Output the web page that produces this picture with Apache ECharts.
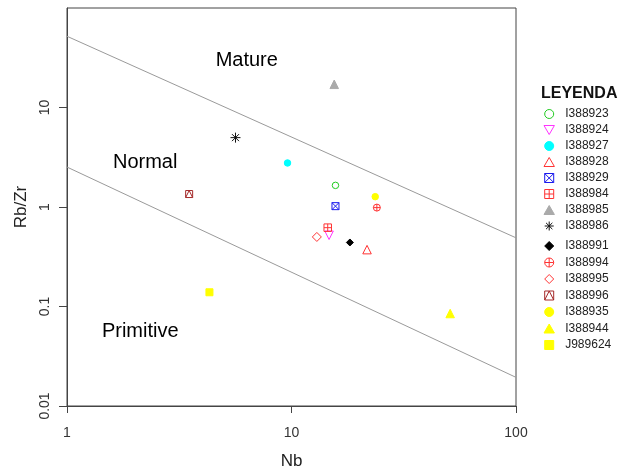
<!DOCTYPE html>
<html>
<head>
    <meta charset="utf-8"/>
    <title>Rb/Zr vs Nb</title>
    <script src="https://cdn.jsdelivr.net/npm/echarts@6/dist/echarts.min.js"></script>
    <style>
        html, body { margin: 0; padding: 0; background: #fff; }
        #chart { width: 619px; height: 472px; }
    </style>
</head>
<body>
<div id="chart"></div>
<script>
    // sample names and values
    var names = ['I388923', 'I388924', 'I388927', 'I388928', 'I388929', 'I388984', 'I388985', 'I388986',
        'I388991', 'I388994', 'I388995', 'I388996', 'I388935', 'I388944', 'J989624'];
    var nb = [15.7, 14.7, 9.6, 21.7, 15.7, 14.5, 15.5, 5.63, 18.2, 24.0, 12.97, 3.5, 23.6, 50.9, 4.31];
    var rbzr = [1.65, 0.52, 2.77, 0.373, 1.02, 0.62, 17.1, 4.98, 0.44, 0.986, 0.50, 1.35, 1.27, 0.085, 0.139];

    // field boundaries
    var upperNb = [1, 100];
    var upperRbZr = [52, 0.49];
    var lowerNb = [1, 100];
    var lowerRbZr = [2.52, 0.0194];

    // field names
    var fieldNames = ['Mature', 'Normal', 'Primitive'];
    var fieldNb = [6.32, 2.23, 2.12];
    var fieldRbZr = [29.5, 2.8, 0.0555];

    // tick labels
    var xTicks = [1, 10, 100];
    var yTicks = [0.01, 0.1, 1, 10];

    var FONT = '"Liberation Sans", Arial, sans-serif';
    var NONE = 'rgba(0,0,0,0)';

    // R-like symbols (paths keep their aspect in the legend)
    var P_CIRC = 'circle';
    var P_UP = 'path://M5 0 L10 8.66 L0 8.66 Z';
    var P_DOWN = 'path://M0 0 L10 0 L5 8.66 Z';
    var P_DIAM = 'path://M5 0 L10 5 L5 10 L0 5 Z';
    var P_SQ = 'path://M0 0 L10 0 L10 10 L0 10 Z';
    var P_SQX = 'path://M0 0 L10 0 L10 10 L0 10 Z M0 0 L10 10 M10 0 L0 10';
    var P_SQPLUS = 'path://M0 0 L10 0 L10 10 L0 10 Z M5 0 L5 10 M0 5 L10 5';
    var P_STAR = 'path://M5 0 L5 10 M0 5 L10 5 M1.5 1.5 L8.5 8.5 M8.5 1.5 L1.5 8.5';
    var P_CPLUS = 'path://M0 5 A5 5 0 1 1 10 5 A5 5 0 1 1 0 5 Z M5 0 L5 10 M0 5 L10 5';
    var P_SQTRI = 'path://M0 0 L10 0 L10 10 L0 10 Z M0 10 L5 0 L10 10';

    var styles = [
        {symbol: P_CIRC, size: 6.5, fill: NONE, stroke: '#22cc22'},
        {symbol: P_DOWN, size: 8.5, fill: NONE, stroke: '#ff33ff'},
        {symbol: P_CIRC, size: 6.5, fill: '#00ffff', stroke: '#00ffff'},
        {symbol: P_UP, size: 8.5, fill: NONE, stroke: '#ff3333'},
        {symbol: P_SQX, size: 7, fill: NONE, stroke: '#1a1aee'},
        {symbol: P_SQPLUS, size: 7.5, fill: NONE, stroke: '#ff3333'},
        {symbol: P_UP, size: 8.5, fill: '#aaaaaa', stroke: '#aaaaaa'},
        {symbol: P_STAR, size: 10, fill: NONE, stroke: '#111111'},
        {symbol: P_DIAM, size: 7, fill: '#000000', stroke: '#000000'},
        {symbol: P_CPLUS, size: 7, fill: NONE, stroke: '#ff3333'},
        {symbol: P_DIAM, size: 9, fill: NONE, stroke: '#ff3333'},
        {symbol: P_SQTRI, size: 7, fill: NONE, stroke: '#a52a2a'},
        {symbol: P_CIRC, size: 6.5, fill: '#ffff00', stroke: '#ffff00'},
        {symbol: P_UP, size: 8.5, fill: '#ffff00', stroke: '#ffff00'},
        {symbol: P_SQ, size: 7, fill: '#ffff00', stroke: '#ffff00'}
    ];

    var series = [];
    // boundary lines
    series.push({
        type: 'line', silent: true, symbol: 'none',
        data: [[upperNb[0], upperRbZr[0]], [upperNb[1], upperRbZr[1]]],
        lineStyle: {color: '#9a9a9a', width: 1}
    });
    series.push({
        type: 'line', silent: true, symbol: 'none',
        data: [[lowerNb[0], lowerRbZr[0]], [lowerNb[1], lowerRbZr[1]]],
        lineStyle: {color: '#9a9a9a', width: 1}
    });
    // field labels
    series.push({
        type: 'scatter', silent: true, symbolSize: 0,
        data: fieldNames.map(function (n, i) { return {name: n, value: [fieldNb[i], fieldRbZr[i]]}; }),
        label: {
            show: true, position: 'inside', formatter: '{b}',
            fontSize: 20, color: '#000', fontFamily: FONT,
            textBorderWidth: 0, opacity: 1
        },
        itemStyle: {opacity: 1}
    });
    // samples
    for (var i = 0; i < names.length; i++) {
        var s = styles[i];
        series.push({
            type: 'scatter',
            name: names[i],
            symbol: s.symbol,
            symbolSize: s.size,
            data: [[nb[i], rbzr[i]]],
            itemStyle: {color: s.fill, borderColor: s.stroke, borderWidth: 1, opacity: 1}
        });
    }

    function legendItem(n) {
        var s = styles[names.indexOf(n)];
        return {
            name: n,
            icon: s.symbol,
            itemStyle: {color: s.fill, borderColor: s.stroke, borderWidth: 1}
        };
    }

    var legendBase = {
        orient: 'vertical',
        left: 543.5,
        itemWidth: 22,
        itemHeight: 9,
        selectedMode: false,
        padding: 0,
        textStyle: {fontSize: 12, color: '#222', fontFamily: FONT, lineHeight: 12}
    };

    var chart = echarts.init(document.getElementById('chart'), null, {renderer: 'canvas'});
    chart.setOption({
        animation: false,
        backgroundColor: '#fff',
        title: {
            text: 'LEYENDA', left: 541, top: 86, padding: 0,
            textStyle: {fontSize: 16, fontWeight: 'bold', color: '#111', fontFamily: FONT}
        },
        legend: [
            Object.assign({}, legendBase, {top: 108, itemGap: 4, data: names.slice(0, 8).map(legendItem)}),
            Object.assign({}, legendBase, {top: 240, itemGap: 4.5, data: names.slice(8).map(legendItem)})
        ],
        grid: {
            left: 67, top: 8, width: 449, height: 398,
            outerBoundsMode: 'none',
            show: true, borderColor: '#444', borderWidth: 1, backgroundColor: 'transparent'
        },
        xAxis: {
            type: 'log', logBase: 10, min: xTicks[0], max: xTicks[xTicks.length - 1],
            name: 'Nb', nameLocation: 'middle', nameGap: 47,
            nameTextStyle: {fontSize: 17, color: '#222', fontFamily: FONT},
            axisLine: {show: true, lineStyle: {color: '#444', width: 1}},
            axisTick: {show: true, length: 7, lineStyle: {color: '#444'}},
            axisLabel: {fontSize: 14, color: '#333', fontFamily: FONT, margin: 20},
            splitLine: {show: false},
            minorTick: {show: false}
        },
        yAxis: {
            type: 'log', logBase: 10, min: yTicks[0], max: 100,
            name: 'Rb/Zr', nameLocation: 'middle', nameGap: 37, nameRotate: 90,
            nameTextStyle: {fontSize: 17, color: '#222', fontFamily: FONT},
            axisLine: {show: true, lineStyle: {color: '#444', width: 1}},
            axisTick: {show: true, length: 8, lineStyle: {color: '#444'}, customValues: yTicks},
            axisLabel: {
                fontSize: 14, color: '#333', fontFamily: FONT, margin: 15, rotate: 90,
                customValues: yTicks,
                formatter: function (v) { return String(+(+v).toPrecision(6)); }
            },
            splitLine: {show: false}
        },
        series: series
    });
</script>
</body>
</html>
